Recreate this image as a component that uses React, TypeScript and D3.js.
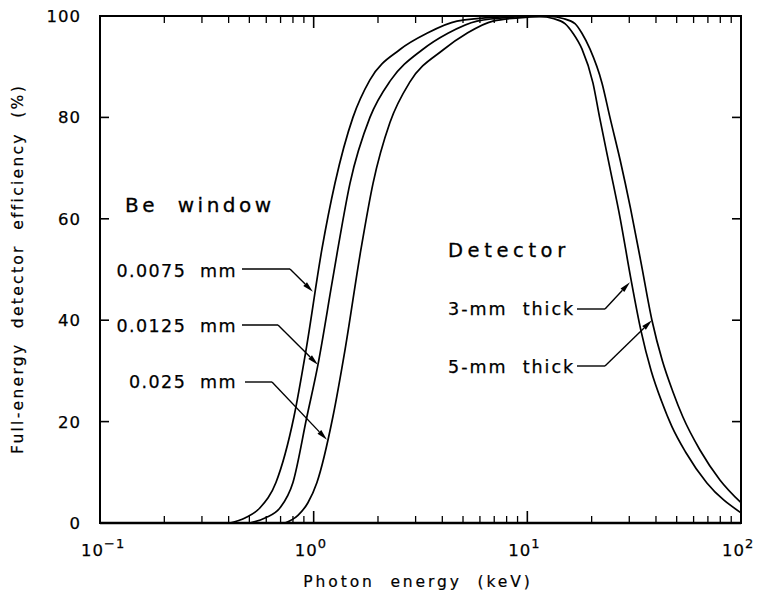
import React from 'react';
import * as d3 from 'd3';

// ---------- data ----------
const xTickExponents = [-1, 0, 1, 2];
const yTicks = [0, 20, 40, 60, 80, 100];

// Be window curves: [energy keV, efficiency %]
const be0075: [number, number][] = [[0.406,0],[0.477,1],[0.561,3],[0.666,8],[0.809,21],[0.920,34],[1.093,54],[1.258,67],[1.527,80],[1.834,87.4],[2.534,93.4],[3.390,96.6],[4.684,99],[7.443,99.8],[11.46,100]];
const be0125: [number, number][] = [[0.503,0],[0.592,1],[0.696,3],[0.800,8],[0.930,21],[1.047,31.2],[1.218,47.3],[1.297,54],[1.479,67],[1.834,80],[2.300,87.4],[3.212,93.3],[4.250,96.6],[5.811,99],[8.750,99.8],[12.76,100]];
const be025: [number, number][] = [[0.734,0],[0.844,1.5],[0.940,4],[1.036,8],[1.231,21],[1.400,34],[1.665,54],[1.896,67],[2.275,79],[2.822,87],[4.028,93.3],[5.217,96.6],[6.902,99],[10.28,99.8],[14.21,100]];

// Detector thickness curves
const det3mm: [number, number][] = [[7.443,100],[11.46,99.9],[13.18,99.5],[15.00,98.5],[16.35,96.6],[18.01,93.5],[20.28,86.8],[21.79,80],[24.36,70],[27.22,60],[30.42,48.5],[34.0,38],[38.0,30],[42.5,24],[47.5,19],[55.0,14],[69.24,7.9],[100,2]];
const det5mm: [number, number][] = [[8.291,100],[12.76,99.9],[14.68,99.5],[16.71,98.5],[18.01,96.6],[19.63,93.5],[22.35,86.8],[24.36,80],[27.22,71.5],[30.42,62],[34.0,51.5],[38.30,40],[42.85,32],[47.9,26],[53.47,20.9],[64.24,14.4],[79.67,8.5],[100,4]];

const windowLabels = ['0.0075  mm', '0.0125  mm', '0.025  mm'];
const windowTargets: [number, number][] = [[0.992, 45.6], [1.047, 31.2], [1.154, 16.4]];
const detectorLabels = ['3-mm  thick', '5-mm  thick'];
const detectorTargets: [number, number][] = [[30.21, 47.5], [38.30, 40]];

// ---------- layout ----------
const W = 757, H = 600;
const L = 100, R = 741, T = 16, B = 523;
const FONT = "'DejaVu Sans', sans-serif";

const x = d3.scaleLog().domain([0.1, 100]).range([L, R]);
const y = d3.scaleLinear().domain([0, 100]).range([B, T]);

const line = d3.line<[number, number]>()
  .x(d => x(d[0]))
  .y(d => y(d[1]))
  .curve(d3.curveMonotoneX);

function Arrow({ x1, y1, x2, y2 }: { x1: number; y1: number; x2: number; y2: number }) {
  const ang = Math.atan2(y2 - y1, x2 - x1);
  const len = 11, hw = 2.6;
  const bx = x2 - len * Math.cos(ang), by = y2 - len * Math.sin(ang);
  const px = -Math.sin(ang) * hw, py = Math.cos(ang) * hw;
  return (
    <g>
      <line x1={x1} y1={y1} x2={bx} y2={by} stroke="#000" strokeWidth={1.4} />
      <polygon points={`${x2},${y2} ${bx + px},${by + py} ${bx - px},${by - py}`} fill="#000" />
    </g>
  );
}

export default function App() {
  const minorTicks: number[] = [];
  for (let e = -1; e < 2; e++) for (let m = 2; m <= 9; m++) minorTicks.push(m * Math.pow(10, e));

  const winLayout = [
    { tx: 237, ty: 277, lx1: 242, lx2: 290, ly: 269 },
    { tx: 237, ty: 332, lx1: 242, lx2: 278, ly: 325 },
    { tx: 237, ty: 388, lx1: 245, lx2: 272, ly: 382 },
  ];
  const detLayout = [
    { tx: 448, ty: 315, lx1: 577, lx2: 605, ly: 309 },
    { tx: 448, ty: 373, lx1: 577, lx2: 605, ly: 366 },
  ];

  const textStyle = { whiteSpace: 'pre' as const };

  return (
    <svg width={W} height={H} style={{ position: 'absolute', left: 0, top: 0, background: '#fff' }}>
      <rect x={0} y={0} width={W} height={H} fill="#fff" />
      {/* curves */}
      {[be0075, be0125, be025, det3mm, det5mm].map((d, i) => (
        <path key={i} d={line(d) || ''} fill="none" stroke="#000" strokeWidth={1.7} />
      ))}
      {/* frame */}
      <rect x={L} y={T} width={R - L} height={B - T} fill="none" stroke="#000" strokeWidth={2} />
      <line x1={L} x2={R} y1={B} y2={B} stroke="#000" strokeWidth={2.6} />
      {/* x ticks */}
      {xTickExponents.map(e => {
        const px = x(Math.pow(10, e));
        return (
          <g key={'xm' + e}>
            <line x1={px} x2={px} y1={B} y2={B - 12} stroke="#000" strokeWidth={1.6} />
            <line x1={px} x2={px} y1={T} y2={T + 12} stroke="#000" strokeWidth={1.6} />
          </g>
        );
      })}
      {minorTicks.map((v, i) => {
        const px = x(v);
        return (
          <g key={'xn' + i}>
            <line x1={px} x2={px} y1={B} y2={B - 7} stroke="#000" strokeWidth={1.3} />
            <line x1={px} x2={px} y1={T} y2={T + 7} stroke="#000" strokeWidth={1.3} />
          </g>
        );
      })}
      {/* y ticks */}
      {yTicks.map(v => (
        <g key={'y' + v}>
          <line x1={L} x2={L + 9} y1={y(v)} y2={y(v)} stroke="#000" strokeWidth={1.6} />
          <line x1={R} x2={R - 9} y1={y(v)} y2={y(v)} stroke="#000" strokeWidth={1.6} />
          <text x={81} y={y(v) + 6} textAnchor="end" fontFamily={FONT} fontSize={16.5} letterSpacing={1} stroke="#000" strokeWidth={0.25}>{v}</text>
        </g>
      ))}
      {/* x tick labels */}
      {xTickExponents.map(e => {
        const px = x(Math.pow(10, e));
        return (
          <text key={'xl' + e} x={px - 19} y={556} fontFamily={FONT} fontSize={16.5} letterSpacing={1} stroke="#000" strokeWidth={0.25}>
            10<tspan dy={-8} fontSize={13}>{e < 0 ? '\u2212' + Math.abs(e) : String(e)}</tspan>
          </text>
        );
      })}
      {/* axis titles */}
      <text x={418} y={587} textAnchor="middle" fontFamily={FONT} fontSize={15.5} letterSpacing={2.9} stroke="#000" strokeWidth={0.2} style={textStyle}>Photon  energy  (keV)</text>
      <text transform="translate(23,269) rotate(-90)" textAnchor="middle" fontFamily={FONT} fontSize={15.5} letterSpacing={2.3} stroke="#000" strokeWidth={0.2} style={textStyle}>Full-energy  detector  efficiency  (%)</text>
      {/* annotations */}
      <text x={125} y={212} fontFamily={FONT} fontSize={20} letterSpacing={3.5} stroke="#000" strokeWidth={0.3} style={textStyle}>Be  window</text>
      <text x={448} y={257} fontFamily={FONT} fontSize={19.5} letterSpacing={4.6} stroke="#000" strokeWidth={0.3}>Detector</text>
      {windowLabels.map((lab, i) => {
        const l = winLayout[i];
        const t = windowTargets[i];
        return (
          <g key={'wl' + i}>
            <text x={l.tx} y={l.ty} textAnchor="end" fontFamily={FONT} fontSize={17.5} letterSpacing={1.4} stroke="#000" strokeWidth={0.25} style={textStyle}>{lab}</text>
            <line x1={l.lx1} x2={l.lx2} y1={l.ly} y2={l.ly} stroke="#000" strokeWidth={1.4} />
            <Arrow x1={l.lx2} y1={l.ly} x2={x(t[0])} y2={y(t[1])} />
          </g>
        );
      })}
      {detectorLabels.map((lab, i) => {
        const l = detLayout[i];
        const t = detectorTargets[i];
        return (
          <g key={'dl' + i}>
            <text x={l.tx} y={l.ty} fontFamily={FONT} fontSize={17.5} letterSpacing={2} stroke="#000" strokeWidth={0.25} style={textStyle}>{lab}</text>
            <line x1={l.lx1} x2={l.lx2} y1={l.ly} y2={l.ly} stroke="#000" strokeWidth={1.4} />
            <Arrow x1={l.lx2} y1={l.ly} x2={x(t[0])} y2={y(t[1])} />
          </g>
        );
      })}
    </svg>
  );
}
